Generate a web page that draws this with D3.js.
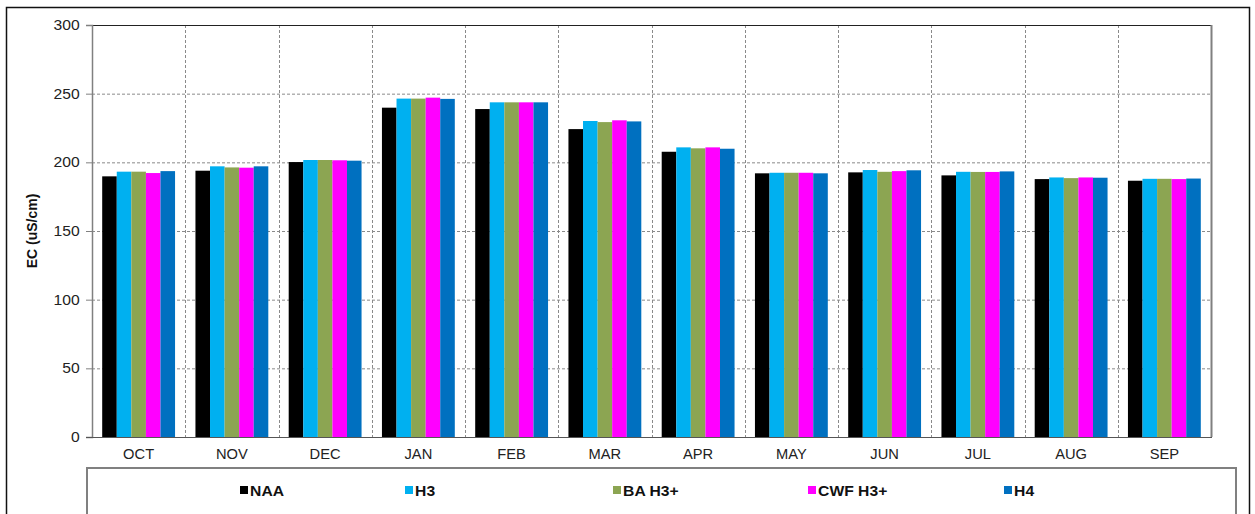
<!DOCTYPE html>
<html>
<head>
<meta charset="utf-8">
<script src="https://cdn.jsdelivr.net/npm/d3@7"></script>
<style>
  body { margin: 0; background: #fff; }
  text { font-family: "Liberation Sans", Arial, sans-serif; }
</style>
</head>
<body>
<div id="my_dataviz"></div>
<script>
// months along the x axis
var months = ["OCT","NOV","DEC","JAN","FEB","MAR","APR","MAY","JUN","JUL","AUG","SEP"];

// series names + colours
var seriesNames = ["NAA","H3","BA H3+","CWF H3+","H4"];
var seriesColors = ["#000000","#00b0f0","#8ca552","#ff00ff","#0070c0"];

// values (EC, uS/cm)
var naa    = [189.8, 193.9, 200.2, 239.8, 238.8, 224.2, 207.7, 192.0, 192.7, 190.5, 187.8, 186.6];
var h3     = [193.2, 197.1, 201.7, 246.4, 243.7, 230.1, 210.9, 192.4, 194.4, 193.1, 189.0, 188.0];
var baH3   = [193.2, 196.3, 201.7, 246.4, 243.7, 229.3, 210.2, 192.4, 193.1, 193.0, 188.5, 188.0];
var cwfH3  = [192.2, 196.1, 201.5, 247.1, 243.7, 230.6, 210.9, 192.4, 193.6, 193.0, 189.0, 187.8];
var h4     = [193.6, 197.1, 201.2, 246.2, 243.7, 229.8, 209.9, 192.0, 194.2, 193.4, 188.8, 188.2];

var yTicks = [0, 50, 100, 150, 200, 250, 300];

var allSeries = [naa, h3, baH3, cwfH3, h4];

var W = 1255, H = 514;
var margin = {top: 25, right: 44, bottom: 77, left: 92},
    width = W - margin.left - margin.right,
    height = H - margin.top - margin.bottom;

// the source picture is a bit stretched sideways, so text is widened a little
var stretch = "scale(1.12,1)";

var svg = d3.select("#my_dataviz")
  .append("svg")
  .attr("width", W)
  .attr("height", H);

// outer frame
svg.append("rect")
  .attr("x", 6.5).attr("y", 7.5)
  .attr("width", 1243).attr("height", 520)
  .attr("fill", "none")
  .attr("stroke", "#111")
  .attr("stroke-width", 1.5);

var g = svg.append("g")
  .attr("transform", "translate(" + margin.left + "," + margin.top + ")");

var x0 = d3.scaleBand().domain(months).range([0, width]).padding(0);
var x1 = d3.scaleBand().domain(seriesNames).range([0, x0.bandwidth()])
  .paddingInner(0).paddingOuter(0.7);
var y = d3.scaleLinear().domain([0, 300]).range([height, 0]);

// horizontal grid
g.append("g")
  .selectAll("line")
  .data(yTicks.filter(function(d){ return d > 0 && d < 300; }))
  .enter().append("line")
    .attr("x1", 0).attr("x2", width)
    .attr("y1", function(d){ return y(d) + 0.5; })
    .attr("y2", function(d){ return y(d) + 0.5; })
    .attr("stroke", "#8a8a8a")
    .attr("stroke-dasharray", "3,2");

// vertical grid between months
g.append("g")
  .selectAll("line")
  .data(months.slice(1))
  .enter().append("line")
    .attr("x1", function(d){ return Math.round(x0(d)) + 0.5; })
    .attr("x2", function(d){ return Math.round(x0(d)) + 0.5; })
    .attr("y1", 0).attr("y2", height)
    .attr("stroke", "#8a8a8a")
    .attr("stroke-dasharray", "3,2");

// bars
var rows = months.map(function(m, i) {
  return {month: m, vals: seriesNames.map(function(s, j) { return {key: s, value: allSeries[j][i], color: seriesColors[j]}; })};
});

g.append("g")
  .selectAll("g")
  .data(rows)
  .enter().append("g")
    .attr("transform", function(d){ return "translate(" + x0(d.month) + ",0)"; })
  .selectAll("rect")
  .data(function(d){ return d.vals; })
  .enter().append("rect")
    .attr("x", function(d){ return x1(d.key); })
    .attr("y", function(d){ return y(d.value); })
    .attr("width", x1.bandwidth())
    .attr("height", function(d){ return height - y(d.value); })
    .attr("fill", function(d){ return d.color; });

// plot frame: top and right
g.append("line").attr("x1", 0).attr("x2", width).attr("y1", 0.5).attr("y2", 0.5)
  .attr("stroke", "#222").attr("stroke-width", 1.2);
g.append("line").attr("x1", width + 0.5).attr("x2", width + 0.5).attr("y1", 0).attr("y2", height)
  .attr("stroke", "#808080").attr("stroke-width", 2);

// y axis
var yAxis = g.append("g")
  .call(d3.axisLeft(y).tickValues(yTicks).tickSize(6).tickPadding(5));
yAxis.select(".domain").attr("stroke", "#808080").attr("stroke-width", 1.5);
yAxis.selectAll(".tick line").attr("stroke", "#808080");
yAxis.selectAll("text")
  .style("font-size", "14px")
  .attr("transform", stretch)
  .attr("fill", "#222");

// x axis (labels only)
var xAxis = g.append("g")
  .attr("transform", "translate(0," + height + ")")
  .call(d3.axisBottom(x0).tickSize(0).tickPadding(12));
xAxis.select(".domain").attr("stroke", "#555").attr("stroke-width", 1.2)
  .attr("d", "M-6,0.5H" + (width + 1));
xAxis.selectAll("text")
  .style("font-size", "14px")
  .attr("transform", "scale(1.05,1)")
  .attr("fill", "#222");

// y axis title
svg.append("text")
  .attr("transform", "translate(37," + (margin.top + height / 2) + ") rotate(-90)")
  .attr("text-anchor", "middle")
  .style("font-size", "14px")
  .style("font-weight", "bold")
  .attr("fill", "#111")
  .text("EC (uS/cm)");

// legend box
svg.append("rect")
  .attr("x", 87).attr("y", 468)
  .attr("width", 1149).attr("height", 80)
  .attr("fill", "none")
  .attr("stroke", "#808080")
  .attr("stroke-width", 2);

var legendX = [240, 405, 613, 808, 1004];
var leg = svg.append("g")
  .selectAll("g")
  .data(seriesNames)
  .enter().append("g")
    .attr("transform", function(d, i){ return "translate(" + legendX[i] + ",486)"; });
leg.append("rect")
  .attr("width", 8).attr("height", 8)
  .attr("fill", function(d, i){ return seriesColors[i]; });
leg.append("text")
  .attr("x", 9).attr("y", 9.5)
  .attr("transform", stretch)
  .style("font-size", "14px")
  .style("font-weight", "bold")
  .attr("fill", "#111")
  .text(function(d){ return d; });
</script>
</body>
</html>
